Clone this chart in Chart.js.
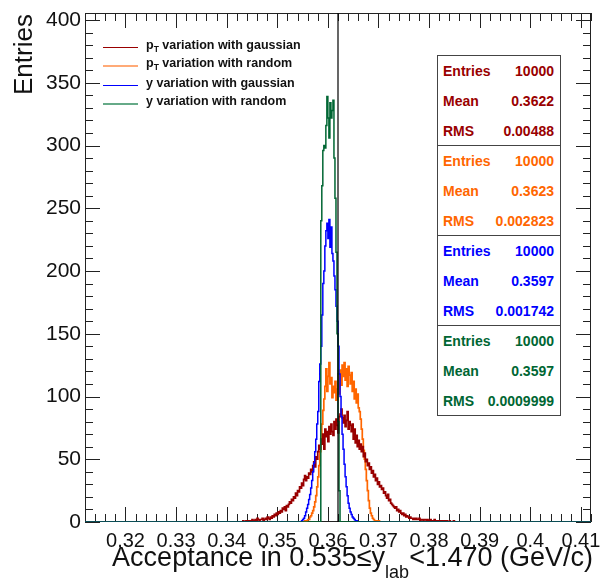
<!DOCTYPE html>
<html>
<head>
<meta charset="utf-8">
<script src="https://cdn.jsdelivr.net/npm/chart.js@4.4.0/dist/chart.umd.min.js"></script>
<style>
  body { margin: 0; background: #fff; font-family: "Liberation Sans", Arial, sans-serif; }
  #wrap { position: relative; width: 606px; height: 583px; }
  #c { position: absolute; left: 0; top: 0; }
  .ytitle { position: absolute; left: 10px; top: 95px; font-size: 26px; line-height: 26px; color: #111;
            transform: rotate(-90deg); transform-origin: left top; white-space: nowrap; }
  .xtitle { position: absolute; right: 13px; top: 544px; font-size: 27px; line-height: 27px; color: #111; white-space: nowrap; }
  .xtitle span { position: relative; top: 12px; font-size: 18px; }
  .leg { position: absolute; left: 103px; height: 18px; font-size: 12.5px; font-weight: bold; color: #111; white-space: nowrap; }
  .leg i { display: block; position: absolute; left: 0; top: 9px; width: 35px; height: 0; }
  .leg b { position: absolute; left: 43px; top: 0px; }
  .leg sub { font-size: 8.5px; vertical-align: -3px; }
  .stat { position: absolute; left: 437px; width: 124px; height: 91px; box-sizing: border-box;
          border: 1px solid #444; background: #fff; font-weight: bold; font-size: 14px; }
  .stat div { height: 30px; line-height: 30px; padding: 0 6px 0 5px; display: flex; justify-content: space-between; }
</style>
</head>
<body>
<div id="wrap">
  <canvas id="c" width="606" height="583"></canvas>
  <div class="ytitle">Entries</div>
  <div class="xtitle">Acceptance in 0.535≤y<span>lab</span>&lt;1.470 (GeV/c)</div>
</div>
<script>
// axis range and tick labels
var xMin = 0.312, xMax = 0.412;
var yMin = 0, yMax = 405.6;
var xTickValues = [0.32, 0.33, 0.34, 0.35, 0.36, 0.37, 0.38, 0.39, 0.40, 0.41];
var yTickValues = [0, 50, 100, 150, 200, 250, 300, 350, 400];
var binWidth = 0.0002;
var refLine = 0.362;

// pT variation with gaussian
var redStart = 0.3430;
var redCounts = [
  0,1,0,0,1,0,1,1,
  1,0,2,1,1,2,1,3,2,1,2,2,3,1,2,3,2,4,3,2,
  4,3,5,4,6,5,7,6,8,7,
  9,8,11,10,12,9,13,12,14,16,
  15,18,17,20,19,23,21,25,24,28,
  27,31,29,34,37,33,36,35,39,38,
  42,40,45,48,44,52,50,56,61,58,
  66,62,70,58,74,68,72,64,76,70,
  78,72,69,80,74,82,77,71,84,86,
  90,83,79,85,76,81,88,74,80,77,
  72,78,66,74,63,69,60,65,58,62,
  56,60,52,55,48,50,45,47,42,44,
  39,41,36,38,33,35,30,32,28,29,
  26,27,23,24,21,19,22,17,18,15,
  14,13,12,11,12,9,10,8,9,7,
  6,7,5,6,4,5,4,3,4,3,
  3,2,3,2,3,2,2,3,1,2,
  2,1,2,2,1,2,1,1,2,1,
  1,1,2,1,1,0,1,1,0,1,
  1,0,1,0,1,0,0,1,0,0,0,1,0,0,0,0,0
];

// pT variation with random
var orangeStart = 0.3554;
var orangeCounts = [
  1,0,1,2,2, 4,5,7,9,12, 16,21,28,36,45, 56,66,78,89,98,
  108,122,104,116,127, 110,115,99,108,103, 112,97,106,118,102,
  121,109,125,116,127, 113,122,108,124,117, 110,119,104,112,98,
  106,95,102,91,88, 82,74,66,57,50, 42,33,25,17,11, 7,5,3,2,1, 1,1,0,1,0
];

// y variation with gaussian
var blueStart = 0.3548;
var blueCounts = [
  1,2,3,5,8, 11,14,18,22,27, 33,40,47,56,66, 78,88,112,126,140,
  165,190,200,220,232, 238,226,241,219,235, 214,208,196,185,172,
  160,140,118,100,84, 70,58,46,36,28, 21,15,11,8,6, 4,3,2,1,1
];

// y variation with random
var greenStart = 0.3586;
var greenCounts = [
  240,268,296,300,298,316,339,322,306,334,322,328,336,290,258,215,150,80,25
];

var seriesNames = [
  'p<sub>T</sub> variation with gaussian',
  'p<sub>T</sub> variation with random',
  'y variation with gaussian',
  'y variation with random'
];
var seriesColors = ['#990000', '#ff6600', '#0000ff', '#006633'];
var legendColors = ['#990000', '#ffaa77', '#0000ff', '#66aa88'];
var legendWidths = [1, 2, 1, 2];
var lineWidths = [1.7, 1.7, 1.5, 1.5];

var statEntries = ['10000', '10000', '10000', '10000'];
var statMeans = ['0.3622', '0.3623', '0.3597', '0.3597'];
var statRms = ['0.00488', '0.002823', '0.001742', '0.0009999'];

function histPoints(start, counts) {
  var pts = [{x: xMin, y: 0}, {x: start, y: 0}];
  counts.forEach(function (c, i) { pts.push({x: start + i * binWidth, y: c}); });
  pts.push({x: start + counts.length * binWidth, y: 0});
  pts.push({x: xMax, y: 0});
  return pts;
}

// legend
var wrap = document.getElementById('wrap');
var legTops = [38, 56, 76, 94];
seriesNames.forEach(function (n, i) {
  var d = document.createElement('div');
  d.className = 'leg';
  d.style.top = legTops[i] + 'px';
  d.innerHTML = '<i style="border-top:' + legendWidths[i] + 'px solid ' + legendColors[i] + '"></i><b>' + n + '</b>';
  wrap.appendChild(d);
});

// stat boxes
statEntries.forEach(function (e, i) {
  var s = document.createElement('div');
  s.className = 'stat';
  s.style.top = (55 + 90 * i) + 'px';
  s.style.color = seriesColors[i];
  s.innerHTML = '<div><span>Entries</span><span>' + e + '</span></div>' +
                '<div><span>Mean</span><span>' + statMeans[i] + '</span></div>' +
                '<div><span>RMS</span><span>' + statRms[i] + '</span></div>';
  wrap.appendChild(s);
});

// frame and inward ticks, ROOT style
var rootAxes = {
  id: 'rootAxes',
  beforeDatasetsDraw: function (chart) {
    var ctx = chart.ctx, a = chart.chartArea, sx = chart.scales.x, sy = chart.scales.y;
    ctx.save();
    ctx.strokeStyle = '#222';
    ctx.lineWidth = 1;
    ctx.strokeRect(a.left + 0.5, a.top + 0.5, a.right - a.left - 1, a.bottom - a.top - 1);
    ctx.beginPath();
    for (var k = Math.ceil(xMin / 0.002 - 1e-6); k <= Math.floor(xMax / 0.002 + 1e-6); k++) {
      var px = Math.round(sx.getPixelForValue(k * 0.002)) + 0.5;
      var len = (k % 5 === 0) ? 15 : 8;
      ctx.moveTo(px, a.bottom); ctx.lineTo(px, a.bottom - len);
      ctx.moveTo(px, a.top); ctx.lineTo(px, a.top + len);
    }
    for (var j = 0; j * 10 <= yMax; j++) {
      var py = Math.round(sy.getPixelForValue(j * 10)) + 0.5;
      var l2 = (j % 5 === 0) ? 15 : 8;
      ctx.moveTo(a.left, py); ctx.lineTo(a.left + l2, py);
      ctx.moveTo(a.right, py); ctx.lineTo(a.right - l2, py);
    }
    ctx.stroke();
    ctx.restore();
  }
};

function histDataset(label, start, counts, i, order) {
  return {
    label: label,
    data: histPoints(start, counts),
    borderColor: seriesColors[i],
    borderWidth: lineWidths[i],
    pointRadius: 0,
    stepped: 'before',
    fill: false,
    order: order
  };
}

new Chart(document.getElementById('c'), {
  type: 'line',
  data: {
    datasets: [
      histDataset('red', redStart, redCounts, 0, 4),
      histDataset('orange', orangeStart, orangeCounts, 1, 5),
      histDataset('blue', blueStart, blueCounts, 2, 3),
      histDataset('green', greenStart, greenCounts, 3, 2),
      {
        label: 'line',
        data: [{x: refLine, y: yMin}, {x: refLine, y: yMax}],
        borderColor: '#000',
        borderWidth: 1.2,
        pointRadius: 0,
        order: 1
      }
    ]
  },
  options: {
    responsive: false,
    animation: false,
    devicePixelRatio: 1,
    layout: { padding: { top: 13, right: 15, left: 0, bottom: 0 } },
    plugins: { legend: { display: false }, tooltip: { enabled: false } },
    scales: {
      x: {
        type: 'linear',
        min: xMin,
        max: xMax,
        grid: { display: false, drawTicks: false },
        border: { display: false },
        ticks: {
          autoSkip: false,
          maxRotation: 0,
          padding: 7,
          color: '#111',
          font: { family: 'Liberation Sans', size: 20 },
          callback: function (v) { return String(+v.toFixed(2)); }
        },
        afterBuildTicks: function (s) { s.ticks = xTickValues.map(function (v) { return {value: v}; }); },
        afterFit: function (s) { s.height = 61; s.paddingLeft = 0; s.paddingRight = 0; }
      },
      y: {
        min: yMin,
        max: yMax,
        grid: { display: false, drawTicks: false },
        border: { display: false },
        ticks: {
          padding: 4,
          color: '#111',
          font: { family: 'Liberation Sans', size: 21 }
        },
        afterBuildTicks: function (s) { s.ticks = yTickValues.map(function (v) { return {value: v}; }); },
        afterFit: function (s) { s.width = 85; s.paddingTop = 0; s.paddingBottom = 0; }
      }
    }
  },
  plugins: [rootAxes]
});
</script>
</body>
</html>
